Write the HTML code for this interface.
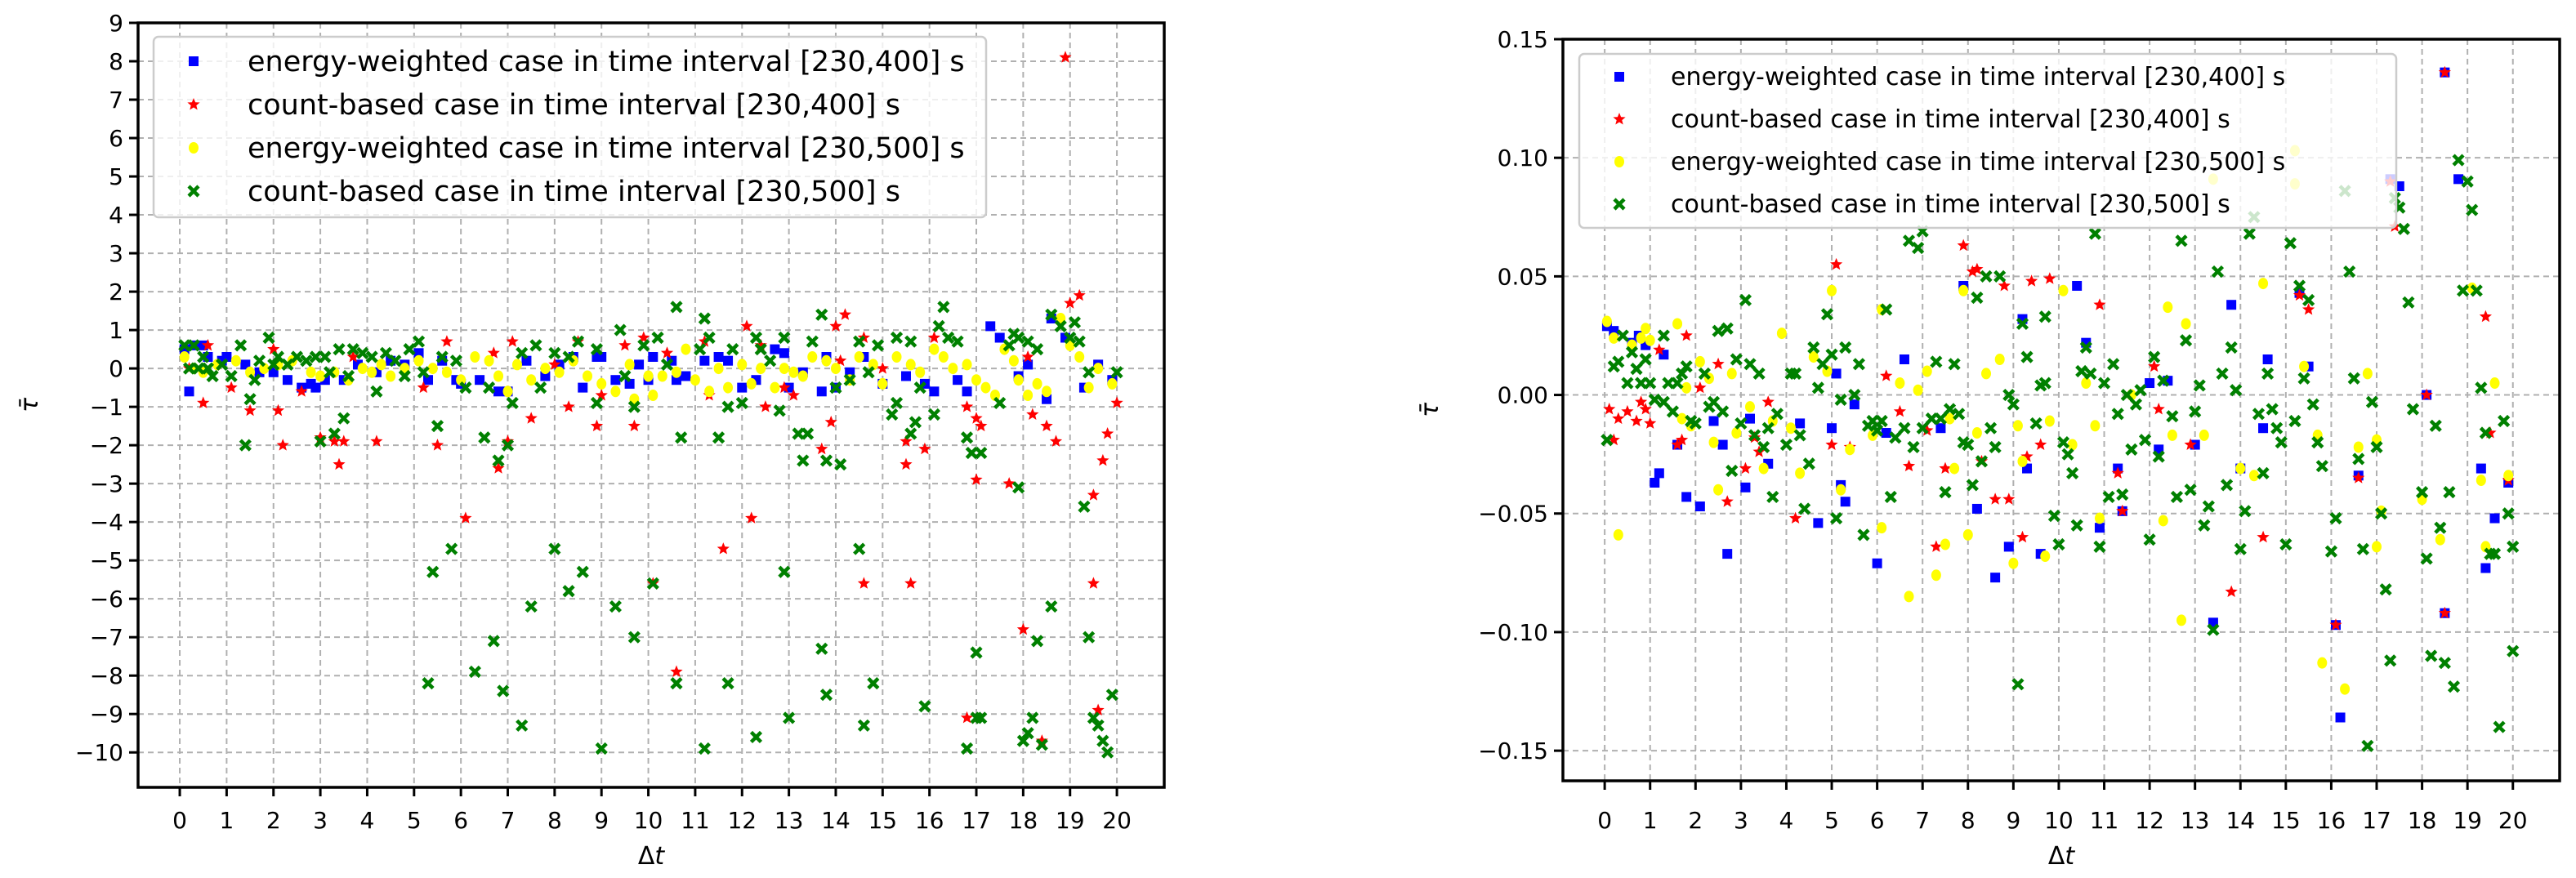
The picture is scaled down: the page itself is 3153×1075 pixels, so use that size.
<!DOCTYPE html>
<html><head><meta charset="utf-8"><style>
html,body{margin:0;padding:0;background:#fff;}
svg{display:block;font-family:"DejaVu Sans","Liberation Sans",sans-serif;}
</style></head><body>
<svg id="fig" width="3153" height="1075" viewBox="0 0 3153 1075" xmlns="http://www.w3.org/2000/svg"></svg>
<script>
const xTicks = [0,1,2,3,4,5,6,7,8,9,10,11,12,13,14,15,16,17,18,19,20];
const leftYTicks = [9,8,7,6,5,4,3,2,1,0,-1,-2,-3,-4,-5,-6,-7,-8,-9,-10];
const rightYTicks = [0.15,0.10,0.05,0.00,-0.05,-0.10,-0.15];
const rightYTickLabels = ["0.15","0.10","0.05","0.00","\u22120.05","\u22120.10","\u22120.15"];

const leftBlue = [[0.1,0.5],[0.2,-0.6],[0.3,0.6],[0.5,0.6],[0.6,0.3],[0.9,0.2],[1.0,0.3],[1.4,0.1],[1.7,-0.1],[2.0,-0.1],[2.3,-0.3],[2.6,-0.5],[2.8,-0.4],[2.9,-0.5],[3.1,-0.3],[3.5,-0.3],[3.8,0.1],[4.2,-0.1],[4.5,0.2],[4.8,0.1],[5.1,0.4],[5.3,-0.3],[5.6,0.2],[5.9,-0.3],[6.0,-0.4],[6.4,-0.3],[6.8,-0.6],[7.0,-0.6],[7.4,0.2],[7.8,-0.2],[8.1,0.1],[8.4,0.3],[8.6,-0.5],[8.9,0.3],[9.0,0.3],[9.3,-0.3],[9.6,-0.4],[9.8,0.1],[10.0,-0.3],[10.1,0.3],[10.5,0.2],[10.6,-0.3],[10.8,-0.2],[11.2,0.2],[11.5,0.3],[11.7,0.2],[12.0,-0.5],[12.3,-0.3],[12.7,0.5],[12.9,0.4],[13.0,-0.5],[13.3,-0.1],[13.7,-0.6],[13.8,0.3],[14.0,-0.5],[14.3,-0.1],[14.6,0.3],[15.0,-0.4],[15.5,-0.2],[15.9,-0.4],[16.1,-0.6],[16.6,-0.3],[16.8,-0.6],[17.3,1.1],[17.5,0.8],[17.9,-0.2],[18.1,0.1],[18.5,-0.8],[18.6,1.3],[18.9,0.8],[19.3,-0.5],[19.6,0.1],[19.9,-0.3]];
const leftRed = [[0.2,0],[0.5,-0.9],[0.6,0.6],[1.1,-0.5],[1.5,-1.1],[2.0,0.5],[2.1,-1.1],[2.2,-2.0],[2.6,-0.6],[3.0,-1.8],[3.3,-1.9],[3.4,-2.5],[3.5,-1.9],[4.2,-1.9],[5.2,-0.5],[5.5,-2.0],[5.7,0.7],[6.1,-3.9],[6.7,0.4],[6.8,-2.6],[7.0,-1.9],[7.1,0.7],[7.5,-1.3],[8.3,-1.0],[8.5,0.7],[8.9,-1.5],[9.0,-0.7],[9.5,0.6],[9.7,-1.5],[9.9,0.8],[10.1,-5.6],[10.4,0.4],[10.6,-7.9],[11.2,0.7],[11.3,-0.7],[11.6,-4.7],[12.1,1.1],[12.2,-3.9],[12.5,-1.0],[12.9,-0.5],[13.1,-0.7],[13.9,-1.4],[14.0,1.1],[14.2,1.4],[14.1,0.2],[13.7,-2.1],[14.6,-5.6],[15.5,-1.9],[15.5,-2.5],[15.6,-5.6],[15.9,-2.1],[16.1,0.8],[16.8,-1.0],[17.0,-1.3],[17.0,-2.9],[17.1,-1.5],[17.7,-3.0],[18.0,-6.8],[18.1,0.3],[18.2,-1.2],[18.5,-1.5],[18.7,-1.9],[18.9,8.1],[19.0,1.7],[19.2,1.9],[19.5,-3.3],[19.5,-5.6],[19.6,-8.9],[19.7,-2.4],[19.8,-1.7],[20.0,-0.9],[18.4,-9.7],[16.8,-9.1],[14.6,0.8],[12.4,0.6],[15.0,0],[8.0,0.1],[3.7,0.3]];
const leftYellow = [[0.1,0.3],[0.3,0.0],[0.5,-0.1],[0.8,0.1],[1.2,0.2],[1.5,-0.1],[1.8,0.0],[2.1,0.1],[2.4,0.2],[2.8,-0.1],[3.0,-0.2],[3.3,-0.1],[3.6,-0.3],[3.9,0.0],[4.1,-0.1],[4.3,0.1],[4.5,-0.2],[4.8,0.0],[5.1,0.2],[5.4,0.0],[5.7,-0.1],[6.0,-0.3],[6.3,0.3],[6.6,0.2],[6.8,-0.2],[7.0,-0.6],[7.2,0.1],[7.5,-0.3],[7.8,0.0],[8.1,-0.1],[8.4,0.2],[8.7,-0.2],[9.0,-0.4],[9.3,-0.6],[9.6,0.1],[9.7,-0.8],[10.0,-0.2],[10.1,-0.7],[10.3,-0.2],[10.6,-0.1],[10.8,0.5],[11.0,-0.3],[11.3,-0.6],[11.5,0.0],[11.7,-0.5],[12.0,0.1],[12.2,-0.4],[12.4,0.0],[12.7,-0.5],[12.9,0.0],[13.1,-0.1],[13.3,-0.2],[13.5,0.3],[13.8,0.2],[14.0,0.0],[14.3,-0.3],[14.5,0.3],[14.8,0.1],[15.0,-0.4],[15.3,0.3],[15.6,0.1],[15.8,-0.1],[16.1,0.5],[16.3,0.3],[16.5,0.0],[16.8,0.1],[17.0,-0.3],[17.2,-0.5],[17.4,-0.7],[17.6,0.5],[17.8,0.2],[17.9,-0.3],[18.1,-0.7],[18.3,-0.4],[18.5,-0.6],[18.8,1.3],[19.0,0.6],[19.2,0.3],[19.4,-0.5],[19.6,0.0],[19.9,-0.4]];
const leftGreen = [[5.3,-8.2],[5.4,-5.3],[5.5,-1.5],[5.8,-4.7],[6.3,-7.9],[6.7,-7.1],[6.9,-8.4],[7.3,-9.3],[7.5,-6.2],[8,-4.7],[8.3,-5.8],[8.6,-5.3],[9,-9.9],[9.3,-6.2],[9.7,-7.0],[10.1,-5.6],[10.6,-8.2],[11.2,-9.9],[11.7,-8.2],[12.3,-9.6],[12.9,-5.3],[13,-9.1],[13.7,-7.3],[13.8,-8.5],[14.5,-4.7],[14.6,-9.3],[14.8,-8.2],[15.9,-8.8],[16.8,-9.9],[17,-7.4],[17,-9.1],[17.1,-9.1],[18,-9.7],[18.1,-9.5],[18.2,-9.1],[18.3,-7.1],[18.4,-9.8],[18.6,-6.2],[19.4,-7.0],[19.5,-9.1],[19.6,-9.3],[19.7,-9.7],[19.8,-10],[19.9,-8.5],[19.3,-3.6],[17.9,-3.1],[13.3,-2.4],[13.4,-1.7],
[0.1,0.6],[0.2,0],[0.3,0.6],[0.4,0],[0.5,0.3],[0.6,0],[0.7,-0.2],[0.9,0.1],[1.1,-0.2],[1.3,0.6],[1.4,-2.0],[1.5,-0.8],[1.6,-0.3],[1.7,0.2],[1.9,0.8],[2.0,0.1],[2.1,0.3],[2.3,0.1],[2.5,0.3],[2.7,0.2],[2.9,0.3],[3.0,-1.9],[3.1,0.3],[3.2,-0.1],[3.3,-1.7],[3.4,0.5],[3.5,-1.3],[3.6,-0.2],[3.7,0.5],[3.9,0.4],[4.1,0.3],[4.2,-0.6],[4.4,0.4],[4.6,0.2],[4.8,-0.2],[4.9,0.5],[5.1,0.7],[5.2,-0.1],[5.6,0.3],[5.9,0.2],[6.1,-0.5],[6.5,-1.8],[6.6,-0.5],[6.8,-2.4],[7.0,-2.0],[7.1,-0.9],[7.3,0.4],[7.6,0.6],[7.7,-0.5],[8.0,0.4],[8.3,0.3],[8.5,0.7],[8.9,-0.9],[8.9,0.5],[9.4,1.0],[9.5,-0.2],[9.7,-1.0],[9.9,0.6],[10.2,0.8],[10.4,0.1],[10.6,1.6],[10.7,-1.8],[11.1,0.5],[11.2,1.3],[11.3,0.8],[11.5,-1.8],[11.7,-1.0],[11.8,0.5],[12.0,-0.9],[12.3,0.8],[12.4,0.5],[12.6,0.2],[12.8,-1.1],[12.9,0.8],[13.2,-1.7],[13.5,0.7],[13.7,1.4],[13.8,-2.4],[14.0,-0.5],[14.1,-2.5],[14.3,-0.3],[14.5,0.7],[14.7,-0.1],[14.9,0.6],[15.2,-1.2],[15.3,-0.9],[15.3,0.8],[15.6,0.7],[15.6,-1.7],[15.7,-1.4],[15.8,-0.5],[16.1,-1.2],[16.2,1.1],[16.3,1.6],[16.4,0.8],[16.6,0.7],[16.8,-1.8],[16.9,-2.2],[17.1,-2.2],[17.5,-0.9],[17.7,0.6],[17.8,0.9],[17.9,0.8],[18.1,0.7],[18.3,0.5],[18.6,1.4],[18.8,1.1],[19.0,0.8],[19.1,1.2],[19.2,0.7],[19.4,-0.1],[20,-0.1]];

const rightBlue = [[0.05,0.029],[0.2,0.027],[0.6,0.022],[0.75,0.025],[0.9,0.021],[1.1,-0.037],[1.2,-0.033],[1.3,0.017],[1.6,-0.021],[1.8,-0.043],[2.1,-0.047],[2.4,-0.011],[2.6,-0.021],[2.7,-0.067],[3.1,-0.039],[3.2,-0.010],[3.6,-0.029],[4.3,-0.012],[4.7,-0.054],[5.0,-0.014],[5.1,0.009],[5.2,-0.038],[5.3,-0.045],[5.5,-0.004],[6.0,-0.071],[6.2,-0.016],[6.6,0.015],[7.4,-0.014],[7.9,0.046],[8.2,-0.048],[8.6,-0.077],[8.9,-0.064],[9.2,0.032],[9.3,-0.031],[9.6,-0.067],[10.4,0.046],[10.6,0.022],[10.9,-0.056],[11.3,-0.031],[11.4,-0.049],[12.0,0.005],[12.2,-0.023],[12.4,0.006],[13.0,-0.021],[13.4,-0.096],[13.8,0.038],[14.0,-0.031],[14.5,-0.014],[14.6,0.015],[15.3,0.043],[15.5,0.012],[16.1,-0.097],[16.2,-0.136],[16.6,-0.034],[17.3,0.091],[17.5,0.088],[18.1,0.0],[18.5,0.136],[18.5,-0.092],[18.8,0.091],[19.3,-0.031],[19.4,-0.073],[19.6,-0.052],[19.9,-0.037]];
const rightRed = [[0.1,-0.006],[0.2,-0.019],[0.3,-0.010],[0.5,-0.007],[0.7,-0.011],[0.8,-0.003],[0.9,-0.006],[1.0,-0.012],[1.2,0.019],[1.6,-0.021],[1.7,-0.019],[1.8,0.025],[2.1,0.003],[2.5,0.013],[2.7,-0.045],[3.1,-0.031],[3.3,-0.018],[3.4,-0.024],[3.6,-0.003],[4.2,-0.052],[5.0,-0.021],[5.1,0.055],[5.4,-0.022],[6.2,0.008],[6.5,-0.007],[6.7,-0.030],[7.1,-0.015],[7.3,-0.064],[7.5,-0.031],[7.9,0.063],[8.1,0.052],[8.2,0.053],[8.3,-0.028],[8.6,-0.044],[8.8,0.046],[8.9,-0.044],[9.2,-0.060],[9.3,-0.026],[9.4,0.048],[9.6,-0.021],[9.8,0.049],[10.9,0.038],[11.3,-0.033],[11.4,-0.049],[12.1,0.012],[12.2,-0.006],[12.9,-0.021],[13.8,-0.083],[14.5,-0.060],[15.3,0.042],[15.5,0.036],[16.1,-0.097],[16.6,-0.035],[17.3,0.090],[17.4,0.071],[18.1,0.0],[18.5,0.136],[18.5,-0.092],[19.4,0.033],[19.5,-0.016],[19.9,-0.036]];
const rightYellow = [[0.05,0.031],[0.2,0.024],[0.3,-0.059],[0.6,0.021],[0.8,0.024],[0.9,0.028],[1.0,0.023],[1.6,0.030],[1.7,-0.010],[1.8,0.003],[1.9,-0.013],[2.1,0.014],[2.3,0.007],[2.4,-0.020],[2.5,-0.040],[2.8,0.009],[2.9,-0.016],[3.2,-0.005],[3.5,-0.031],[3.7,-0.011],[3.9,0.026],[4.1,-0.014],[4.3,-0.033],[4.6,0.016],[4.9,0.010],[5.0,0.044],[5.2,-0.040],[5.4,-0.023],[5.9,-0.017],[6.1,-0.056],[6.1,0.036],[6.5,0.005],[6.7,-0.085],[6.9,0.002],[7.1,0.010],[7.3,-0.076],[7.5,-0.063],[7.6,-0.010],[7.7,-0.031],[7.9,0.044],[8.0,-0.059],[8.2,-0.016],[8.4,0.009],[8.7,0.015],[9.0,-0.071],[9.1,-0.013],[9.2,-0.028],[9.7,-0.068],[9.8,-0.011],[10.1,0.044],[10.3,-0.021],[10.6,0.005],[10.8,-0.013],[10.9,-0.052],[11.6,0.0],[12.3,-0.053],[12.4,0.037],[12.5,-0.017],[12.7,-0.095],[12.8,0.030],[13.2,-0.017],[13.4,0.091],[14.0,-0.031],[14.3,-0.034],[14.5,0.047],[15.2,0.089],[15.4,0.012],[15.7,-0.017],[15.8,-0.113],[16.3,-0.124],[16.6,-0.022],[16.8,0.009],[17.0,-0.019],[17.0,-0.064],[17.1,-0.049],[18.0,-0.044],[18.4,-0.061],[19.1,0.045],[19.3,-0.036],[19.4,-0.064],[19.6,0.005],[19.9,-0.034],[15.2,0.103]];
const rightGreen = [[0.05,-0.019],[0.2,0.012],[0.3,0.014],[0.4,0.025],[0.5,0.005],[0.6,0.018],[0.7,0.011],[0.8,0.005],[0.9,0.015],[1.0,0.005],[1.1,-0.002],[1.3,-0.003],[1.3,0.025],[1.4,0.005],[1.5,-0.007],[1.6,0.005],[1.7,0.009],[1.8,0.012],[1.9,-0.011],[2.0,-0.012],[2.2,0.009],[2.3,-0.005],[2.4,-0.003],[2.5,0.027],[2.6,-0.007],[2.7,0.028],[2.8,-0.032],[2.9,0.015],[3.0,-0.012],[3.1,0.040],[3.2,0.013],[3.3,-0.017],[3.4,0.009],[3.5,-0.022],[3.6,-0.014],[3.7,-0.043],[3.8,-0.008],[4.0,-0.021],[4.1,0.009],[4.2,0.009],[4.3,-0.017],[4.4,-0.048],[4.5,-0.029],[4.6,0.020],[4.7,0.003],[4.8,0.013],[4.9,0.034],[5.0,0.017],[5.1,-0.052],[5.2,-0.002],[5.3,0.020],[5.5,0.0],[5.6,0.013],[5.7,-0.059],[5.8,-0.013],[5.9,-0.011],[6.0,-0.015],[6.1,-0.011],[6.2,0.036],[6.3,-0.043],[6.4,-0.018],[6.6,-0.014],[6.7,0.065],[6.8,-0.022],[6.9,0.062],[7.0,-0.014],[7.0,0.069],[7.2,-0.010],[7.3,0.014],[7.4,-0.010],[7.5,-0.041],[7.6,-0.006],[7.7,0.013],[7.8,-0.008],[7.9,-0.020],[8.0,-0.021],[8.1,-0.038],[8.2,0.041],[8.3,-0.028],[8.4,0.050],[8.5,-0.014],[8.6,-0.022],[8.7,0.050],[8.9,0.0],[9.0,-0.004],[9.1,-0.122],[9.2,0.030],[9.3,0.016],[9.5,-0.012],[9.6,0.004],[9.7,0.033],[9.7,0.005],[9.9,-0.051],[10.0,-0.063],[10.1,-0.020],[10.2,-0.025],[10.3,-0.033],[10.4,-0.055],[10.5,0.010],[10.6,0.020],[10.7,0.009],[10.8,0.068],[10.9,-0.064],[11.0,0.005],[11.1,-0.043],[11.2,0.013],[11.3,-0.008],[11.4,-0.042],[11.5,0.0],[11.6,-0.023],[11.7,-0.004],[11.8,0.002],[11.9,-0.019],[12.0,-0.061],[12.1,0.016],[12.2,-0.026],[12.3,0.006],[12.5,-0.009],[12.6,-0.043],[12.7,0.065],[12.8,0.023],[12.9,-0.040],[13.0,-0.007],[13.1,0.004],[13.2,-0.055],[13.3,-0.047],[13.4,-0.099],[13.5,0.052],[13.6,0.009],[13.7,-0.038],[13.8,0.020],[13.9,0.002],[14.0,-0.065],[14.1,-0.049],[14.2,0.068],[14.3,0.075],[14.4,-0.008],[14.5,-0.033],[14.6,0.009],[14.7,-0.006],[14.8,-0.014],[14.9,-0.020],[15.0,-0.063],[15.1,0.064],[15.2,-0.011],[15.3,0.046],[15.4,0.007],[15.5,0.040],[15.6,-0.004],[15.7,-0.020],[15.8,-0.030],[16.0,-0.066],[16.1,-0.052],[16.3,0.086],[16.4,0.052],[16.5,0.007],[16.6,-0.027],[16.7,-0.065],[16.8,-0.148],[16.9,-0.003],[17.0,-0.022],[17.1,-0.050],[17.2,-0.082],[17.3,-0.112],[17.4,0.083],[17.5,0.079],[17.6,0.070],[17.7,0.039],[17.8,-0.006],[18.0,-0.041],[18.1,-0.069],[18.2,-0.110],[18.3,-0.013],[18.4,-0.056],[18.5,-0.113],[18.6,-0.041],[18.7,-0.123],[18.8,0.099],[18.9,0.044],[19.0,0.090],[19.1,0.078],[19.2,0.044],[19.3,0.003],[19.4,-0.016],[19.5,-0.067],[19.6,-0.067],[19.7,-0.140],[19.8,-0.011],[19.9,-0.050],[20.0,-0.108],[20.0,-0.064]];

const legendLabels = ["energy-weighted case in time interval [230,400] s","count-based case in time interval [230,400] s","energy-weighted case in time interval [230,500] s","count-based case in time interval [230,500] s"];

const NS = "http://www.w3.org/2000/svg";
const fig = document.getElementById('fig');
function mk(tag, attrs, parent){ const e=document.createElementNS(NS,tag); for(const k in attrs) e.setAttribute(k,attrs[k]); (parent||fig).appendChild(e); return e; }

function marker(g, kind, cx, cy){
  let e;
  if(kind==='square'){ e=mk('rect',{x:cx-6,y:cy-6,width:12,height:12,fill:'#0000ff'},g); }
  else if(kind==='star'){
    let p=[]; for(let i=0;i<10;i++){ const r=i%2?3.5:8; const a=-Math.PI/2+i*Math.PI/5; p.push((cx+r*Math.cos(a)).toFixed(1)+','+(cy+r*Math.sin(a)).toFixed(1)); }
    e=mk('polygon',{points:p.join(' '),fill:'#ff0000'},g);
  }
  else if(kind==='circle'){ e=mk('ellipse',{cx:cx,cy:cy,rx:6,ry:7,fill:'#ffff00'},g); }
  else { e=mk('path',{d:`M${cx-6},${cy-6}L${cx+6},${cy+6}M${cx+6},${cy-6}L${cx-6},${cy+6}`,stroke:'#008000','stroke-width':4.5,fill:'none'},g); }
  return e;
}

function panel(opt){
  const {L,R,T,B,xmin,xmax,ymin,ymax,yTicks,yLabels,series,legend,ylabX,name}=opt;
  const X=v=>L+(v-xmin)/(xmax-xmin)*(R-L);
  const Y=v=>T+(ymax-v)/(ymax-ymin)*(B-T);
  const g=mk('g',{});  
  const grid=mk('g',{},g);  
  xTicks.forEach(t=>{ mk('line',{x1:X(t),x2:X(t),y1:T,y2:B,stroke:'#b0b0b0','stroke-width':2,'stroke-dasharray':'7,5'},grid); });
  yTicks.forEach(t=>{ mk('line',{x1:L,x2:R,y1:Y(t),y2:Y(t),stroke:'#b0b0b0','stroke-width':2,'stroke-dasharray':'7,5'},grid); });
  const xa=mk('g',{},g);  
  xTicks.forEach(t=>{ mk('line',{x1:X(t),x2:X(t),y1:B,y2:B+11,stroke:'#000','stroke-width':3},xa);
    const tx=mk('text',{x:X(t),y:1014,'font-size':28,'text-anchor':'middle',fill:'#000'},xa); tx.textContent=String(t);   });
  const ya=mk('g',{},g);  
  yTicks.forEach((t,i)=>{ mk('line',{x1:L-11,x2:L,y1:Y(t),y2:Y(t),stroke:'#000','stroke-width':3},ya);
    const tx=mk('text',{x:L-18,y:Y(t)+10,'font-size':28,'text-anchor':'end',fill:'#000'},ya); tx.textContent=yLabels[i];   });
  const kinds=['square','star','circle','x'];
  series.forEach((s,si)=>{ const sg=mk('g',{},g);  
    s.forEach(p=>{ const m=marker(sg,kinds[si],X(p[0]),Y(p[1]));   }); });
  mk('rect',{x:L,y:T,width:R-L,height:B-T,fill:'none',stroke:'#000','stroke-width':3.5},g);
  const lg=mk('g',{},g);  
  mk('rect',{x:legend.x,y:legend.y,width:legend.w,height:legend.h,rx:6,fill:'#fff','fill-opacity':0.8,stroke:'#cccccc','stroke-width':2.5},lg);
  legendLabels.forEach((lab,i)=>{ const cy=legend.y0+i*legend.dy; const m=marker(lg,kinds[i],legend.mx,cy);  
    const tx=mk('text',{x:legend.tx,y:cy+legend.fs*0.34,'font-size':legend.fs,fill:'#000'},lg); tx.textContent=lab;   });
  const xl=mk('text',{x:(L+R)/2,y:1058,'font-size':30,'text-anchor':'middle',fill:'#000'},g); xl.innerHTML='Δ<tspan font-style="italic">t</tspan>';  
  const yl=mk('text',{x:ylabX,y:(T+B)/2,'font-size':30,'text-anchor':'middle','font-style':'italic',fill:'#000',transform:`rotate(-90 ${ylabX} ${(T+B)/2})`},g); yl.textContent='τ\u0304';  
}

panel({name:'left-chart',L:169,R:1425,T:28,B:964,xmin:-0.89,xmax:21.01,ymin:-10.91,ymax:9,
  yTicks:leftYTicks,yLabels:leftYTicks.map(v=>v<0?'\u2212'+(-v):String(v)),
  series:[leftBlue,leftRed,leftYellow,leftGreen],
  legend:{x:188,y:45,w:1019,h:221,y0:75,dy:53,mx:237,tx:303,fs:35},ylabX:46});
panel({name:'right-chart',L:1913,R:3133,T:48,B:956,xmin:-0.92,xmax:21.03,ymin:-0.1627,ymax:0.15,
  yTicks:rightYTicks,yLabels:rightYTickLabels,
  series:[rightBlue,rightRed,rightYellow,rightGreen],
  legend:{x:1933,y:66,w:1000,h:213,y0:94,dy:52,mx:1982,tx:2045,fs:30},ylabX:1760});
</script>
</body></html>
